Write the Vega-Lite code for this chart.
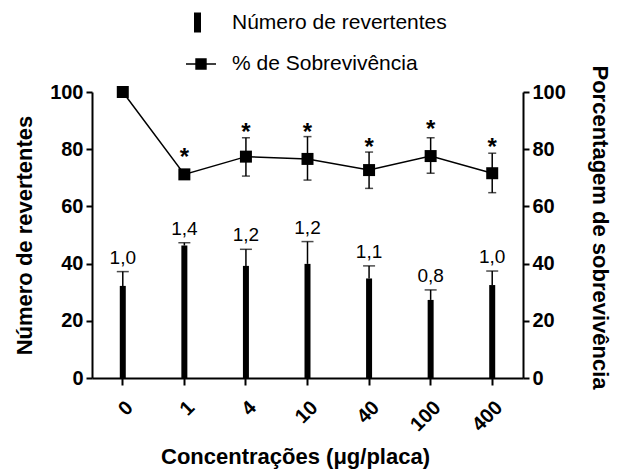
{
  "$schema": "https://vega.github.io/schema/vega-lite/v6.json",
  "width": 431,
  "height": 286,
  "autosize": "none",
  "padding": {"left": 92, "top": 92, "right": 102, "bottom": 95},
  "background": "white",
  "config": {
    "font": "Liberation Sans",
    "view": {"stroke": null},
    "axis": {
      "grid": false,
      "domainColor": "black",
      "domainWidth": 2,
      "tickColor": "black",
      "tickWidth": 2,
      "tickSize": 6,
      "labelFont": "Liberation Sans",
      "labelFontSize": 20,
      "labelFontWeight": "bold",
      "labelColor": "black",
      "labelPadding": 3,
      "titleFont": "Liberation Sans",
      "titleFontSize": 22,
      "titleFontWeight": "bold",
      "titleColor": "black"
    }
  },
  "data": {
    "values": [
      {"conc": "0", "rev": 32.2, "revUp": 37.2, "label": "1,0", "surv": 100, "survLo": 100, "survHi": 100, "star": null, "starY": null},
      {"conc": "1", "rev": 46.3, "revUp": 47.3, "label": "1,4", "surv": 71.2, "survLo": 71.2, "survHi": 71.2, "star": "*", "starY": 79},
      {"conc": "4", "rev": 39.2, "revUp": 45.0, "label": "1,2", "surv": 77.4, "survLo": 70.6, "survHi": 84.0, "star": "*", "starY": 87.9},
      {"conc": "10", "rev": 39.9, "revUp": 47.7, "label": "1,2", "surv": 76.6, "survLo": 69.2, "survHi": 84.4, "star": "*", "starY": 87.9},
      {"conc": "40", "rev": 34.8, "revUp": 39.2, "label": "1,1", "surv": 72.7, "survLo": 66.3, "survHi": 79.0, "star": "*", "starY": 82.6},
      {"conc": "100", "rev": 27.3, "revUp": 30.8, "label": "0,8", "surv": 77.6, "survLo": 71.6, "survHi": 84.0, "star": "*", "starY": 88.7},
      {"conc": "400", "rev": 32.5, "revUp": 37.4, "label": "1,0", "surv": 71.6, "survLo": 64.8, "survHi": 78.6, "star": "*", "starY": 82.6}
    ]
  },
  "encoding": {
    "x": {
      "field": "conc",
      "type": "nominal",
      "sort": null,
      "scale": {"paddingInner": 0, "paddingOuter": 0},
      "axis": {
        "title": "Concentrações (μg/placa)",
        "labelAngle": -45,
        "labelFontSize": 20,
        "tickSize": 7,
        "labelPadding": 12,
        "titlePadding": 12,
        "titleX": 203
      }
    }
  },
  "layer": [
    {
      "encoding": {
        "y": {
          "field": "rev",
          "type": "quantitative",
          "scale": {"domain": [0, 100], "nice": false},
          "axis": {"orient": "left", "values": [0, 20, 40, 60, 80, 100], "title": "Número de revertentes", "titlePadding": 13}
        }
      },
      "layer": [
        {
          "mark": {"type": "bar", "width": 6},
          "encoding": {
            "color": {
              "datum": "Número de revertentes",
              "scale": {"range": ["black"]},
              "legend": {
                "title": null,
                "orient": "none",
                "legendX": 95,
                "legendY": -80,
                "symbolType": "M-0.35,-1H0.35V1H-0.35Z",
                "symbolSize": 400,
                "symbolStrokeWidth": 0,
                "labelFont": "Liberation Sans",
                "labelFontSize": 21,
                "labelColor": "black",
                "labelOffset": 24,
                "labelLimit": 0
              }
            }
          }
        },
        {
          "mark": {"type": "rule", "color": "black", "strokeWidth": 1.5},
          "encoding": {"y2": {"field": "revUp"}}
        },
        {
          "mark": {"type": "tick", "color": "black", "size": 12, "thickness": 1.5},
          "encoding": {"y": {"field": "revUp", "type": "quantitative"}}
        },
        {
          "mark": {"type": "text", "baseline": "alphabetic", "dy": -8, "fontSize": 19, "color": "black", "font": "Liberation Sans"},
          "encoding": {"y": {"field": "revUp", "type": "quantitative"}, "text": {"field": "label"}}
        }
      ]
    },
    {
      "encoding": {
        "y": {
          "field": "surv",
          "type": "quantitative",
          "scale": {"domain": [0, 100], "nice": false},
          "axis": {"orient": "right", "values": [0, 20, 40, 60, 80, 100], "title": "Porcentagem de sobrevivência", "titlePadding": 22, "titleY": 135}
        }
      },
      "layer": [
        {
          "mark": {"type": "line", "strokeWidth": 1.5},
          "encoding": {
            "color": {
              "datum": "% de Sobrevivência",
              "scale": {"range": ["black"]},
              "legend": {
                "title": null,
                "orient": "none",
                "legendX": 93,
                "legendY": -44,
                "symbolType": "M-1,0H1M-0.33,-0.33H0.33V0.33H-0.33Z",
                "symbolSize": 900,
                "symbolStrokeWidth": 1.5,
                "labelFont": "Liberation Sans",
                "labelFontSize": 21,
                "labelColor": "black",
                "labelOffset": 15,
                "labelLimit": 0,
                "encode": {"symbols": {"update": {"fill": {"value": "black"}, "stroke": {"value": "black"}}}}
              }
            }
          }
        },
        {
          "mark": {"type": "rule", "color": "black", "strokeWidth": 1.5},
          "encoding": {"y": {"field": "survLo", "type": "quantitative"}, "y2": {"field": "survHi"}}
        },
        {
          "mark": {"type": "tick", "color": "black", "size": 8, "thickness": 1.5},
          "encoding": {"y": {"field": "survLo", "type": "quantitative"}}
        },
        {
          "mark": {"type": "tick", "color": "black", "size": 8, "thickness": 1.5},
          "encoding": {"y": {"field": "survHi", "type": "quantitative"}}
        },
        {
          "mark": {"type": "square", "size": 144, "color": "black", "filled": true, "opacity": 1}
        },
        {
          "transform": [{"filter": "datum.star != null"}],
          "mark": {"type": "text", "baseline": "middle", "dy": 6, "fontSize": 24, "fontWeight": "bold", "color": "black", "font": "Liberation Sans"},
          "encoding": {"y": {"field": "starY", "type": "quantitative"}, "text": {"field": "star"}}
        }
      ]
    }
  ],
  "resolve": {"scale": {"y": "independent", "color": "independent"}}
}
